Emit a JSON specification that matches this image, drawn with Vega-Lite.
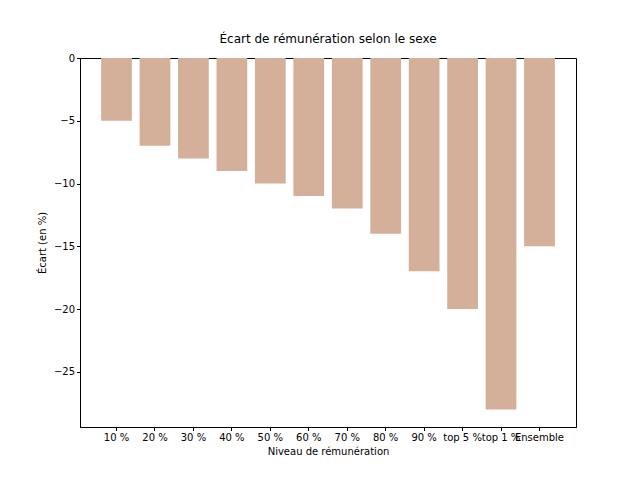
{
"$schema":"https://vega.github.io/schema/vega-lite/v6.json",
"width":496,"height":369,
"padding":{"left":80,"top":58,"right":64,"bottom":53},
"autosize":{"type":"none"},
"background":"white",
"title":{"text":"Écart de rémunération selon le sexe","font":"DejaVu Sans","fontSize":12,"fontWeight":"normal","color":"black","offset":7},
"config":{"view":{"stroke":"black","strokeWidth":1},"axis":{"labelFont":"DejaVu Sans","titleFont":"DejaVu Sans","labelFontSize":10,"titleFontSize":10,"titleFontWeight":"normal","labelColor":"black","titleColor":"black","grid":false,"domainColor":"black","tickColor":"black","tickSize":3.5}},
"data":{"values":[
{"n":"10 %","v":-5},{"n":"20 %","v":-7},{"n":"30 %","v":-8},{"n":"40 %","v":-9},{"n":"50 %","v":-10},{"n":"60 %","v":-11},{"n":"70 %","v":-12},{"n":"80 %","v":-14},{"n":"90 %","v":-17},{"n":"top 5 %","v":-20},{"n":"top 1 %","v":-28},{"n":"Ensemble","v":-15}]},
"mark":{"type":"bar","color":"#d4b09a"},
"encoding":{
"x":{"field":"n","type":"nominal","sort":null,"title":"Niveau de rémunération","scale":{"paddingInner":0.2,"paddingOuter":0.55},"axis":{"labelAngle":0,"labelOverlap":false,"titlePadding":4}},
"y":{"field":"v","type":"quantitative","title":"Écart (en %)","scale":{"domain":[-29.4,0],"nice":false,"zero":false},"axis":{"values":[0,-5,-10,-15,-20,-25],"titlePadding":6}}
}
}
